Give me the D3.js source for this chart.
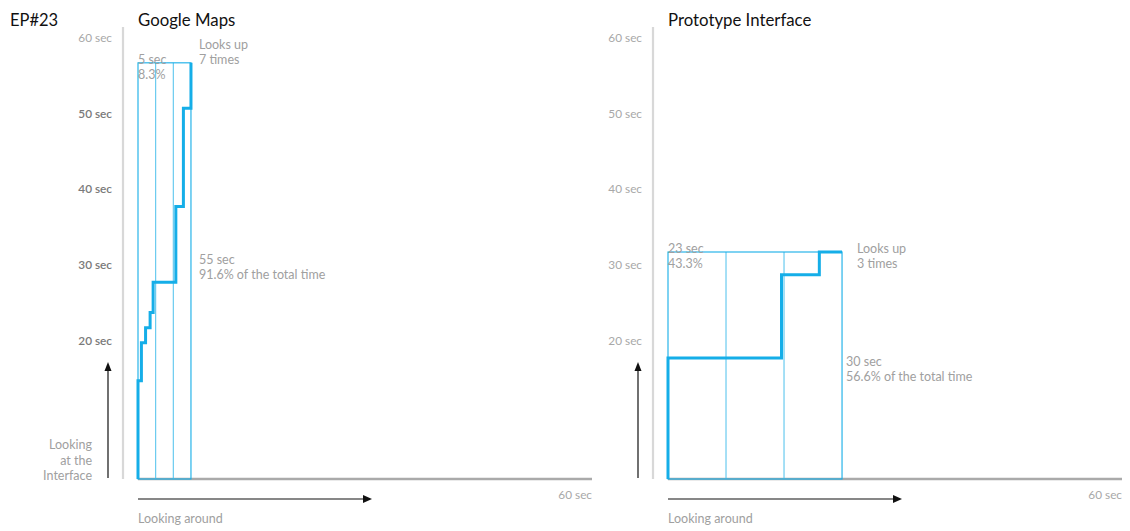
<!DOCTYPE html>
<html><head><meta charset="utf-8">
<script src="https://cdn.jsdelivr.net/npm/d3@7"></script>
<style>
body{margin:0;background:#fff;}
svg{font-family:Lato,"Open Sans",sans-serif;}
</style></head>
<body><svg id="c" width="1130" height="531"></svg>
<script>
// Data (seconds)
const panels = ["Google Maps", "Prototype Interface"];
const yTicks = [60, 50, 40, 30, 20];
// step path: [looking around (x), looking at interface (y)]
const stepsGoogle = [[0,0],[0,13],[0.45,13],[0.45,18],[1,18],[1,20],[1.6,20],[1.6,22],[2,22],[2,26],[5,26],[5,36],[6,36],[6,49],[7,49],[7,55]];
const stepsProto = [[0,0],[0,16],[15,16],[15,27],[20,27],[20,30],[23,30]];
const aroundSec = [5, 23];
const aroundPct = ["8.3%", "43.3%"];
const interfaceSec = [55, 30];
const interfacePct = ["91.6%", "56.6%"];
const looksUp = [7, 3];
const boxW = [7, 23];   // drawn box extents
const boxH = [55, 30];

const svg = d3.select("#c");
const blue = "#15aee8", blueLight = "#5cc6ee";
const y = d3.scaleLinear().domain([0, 60]).range([479, 25]);
const offsets = [138, 668];
const steps = [stepsGoogle, stepsProto];

svg.append("text").attr("x", 10).attr("y", 26).attr("font-size", 16.5).attr("fill", "#111").text("EP#23");

panels.forEach((name, i) => {
  const x0 = offsets[i];
  const x = d3.scaleLinear().domain([0, 60]).range([x0, x0 + 454]);
  const g = svg.append("g");
  g.append("text").attr("x", x0).attr("y", 26).attr("font-size", 16.8).attr("fill", "#111").text(name);

  // vertical grey axis
  g.append("line").attr("x1", x0 - 15).attr("x2", x0 - 15).attr("y1", y(60) + 2).attr("y2", y(0))
    .attr("stroke", "#d8d8d8").attr("stroke-width", 2.2);
  // tick labels
  g.selectAll("text.tk").data(yTicks).join("text").attr("class", "tk")
    .attr("x", x0 - 26).attr("y", d => y(d) + 17).attr("text-anchor", "end")
    .attr("font-size", 11.8)
    .attr("fill", d => (i === 0 && d !== 60) ? "#7a7a7a" : "#a8a8a8")
    .attr("font-weight", d => (i === 0 && d !== 60) ? 600 : 400)
    .text(d => d + " sec");

  // baseline
  g.append("line").attr("x1", x(0)).attr("x2", x(60)).attr("y1", y(0)).attr("y2", y(0))
    .attr("stroke", "#aaaaaa").attr("stroke-width", 2.6);
  g.append("text").attr("x", x(60)).attr("y", y(0) + 20).attr("text-anchor", "end")
    .attr("font-size", 11.8).attr("fill", "#a8a8a8").text("60 sec");

  // box and thirds
  const bw = boxW[i], bh = boxH[i];
  [bw / 3, 2 * bw / 3].forEach(v => {
    g.append("line").attr("x1", x(v)).attr("x2", x(v)).attr("y1", y(bh)).attr("y2", y(0))
      .attr("stroke", blueLight).attr("stroke-width", 1.1);
  });
  g.append("rect").attr("x", x(0)).attr("y", y(bh)).attr("width", x(bw) - x(0)).attr("height", y(0) - y(bh))
    .attr("fill", "none").attr("stroke", blue).attr("stroke-width", 1.1);

  // step line
  g.append("path").datum(steps[i])
    .attr("d", d3.line().x(d => x(d[0])).y(d => y(d[1])))
    .attr("fill", "none").attr("stroke", blue).attr("stroke-width", 3).attr("stroke-linejoin", "miter");

  const grey = "#a0a0a0", fs = 12.5;
  // around annotation
  g.append("text").attr("x", x(0)).attr("y", y(bh) + 1).attr("font-size", fs).attr("fill", grey)
    .call(t => {
      t.append("tspan").attr("x", x(0)).attr("dy", 0).text(aroundSec[i] + " sec");
      t.append("tspan").attr("x", x(0)).attr("dy", 15).text(aroundPct[i]);
    });
  // looks up
  const luX = i === 0 ? x(bw) + 8 : x(bw) + 15;
  const luY = i === 0 ? 49 : y(bh) + 1;
  g.append("text").attr("y", luY).attr("font-size", fs).attr("fill", grey)
    .call(t => {
      t.append("tspan").attr("x", luX).attr("dy", 0).text("Looks up");
      t.append("tspan").attr("x", luX).attr("dy", 15).text(looksUp[i] + " times");
    });
  // interface annotation
  const ifX = i === 0 ? x(bw) + 8 : x(bw) + 4;
  const ifY = i === 0 ? 264 : 366;
  g.append("text").attr("y", ifY).attr("font-size", fs).attr("fill", grey)
    .call(t => {
      t.append("tspan").attr("x", ifX).attr("dy", 0).text(interfaceSec[i] + " sec");
      t.append("tspan").attr("x", ifX).attr("dy", 15).text(interfacePct[i] + " of the total time");
    });

  // looking around arrow
  g.append("line").attr("x1", x(0)).attr("x2", x(0) + 226).attr("y1", 499).attr("y2", 499)
    .attr("stroke", "#111").attr("stroke-width", 1.2);
  g.append("path").attr("d", `M${x(0) + 234},499 L${x(0) + 225},495 L${x(0) + 225},503 Z`).attr("fill", "#111");
  g.append("text").attr("x", x(0)).attr("y", 523).attr("font-size", fs).attr("fill", grey).text("Looking around");

  // looking at interface arrow
  const ax = x0 - 30;
  g.append("line").attr("x1", ax).attr("x2", ax).attr("y1", 478).attr("y2", 369)
    .attr("stroke", "#111").attr("stroke-width", 1.2);
  g.append("path").attr("d", `M${ax},362 L${ax - 3.5},371 L${ax + 3.5},371 Z`).attr("fill", "#111");
  if (i === 0) {
    const lt = g.append("text").attr("font-size", fs).attr("fill", grey).attr("text-anchor", "end");
    ["Looking", "at the", "Interface"].forEach((s, k) => {
      lt.append("tspan").attr("x", 92).attr("y", 449 + k * 15.5).text(s);
    });
  }
});
</script></body></html>
